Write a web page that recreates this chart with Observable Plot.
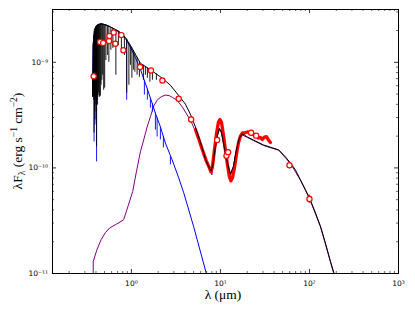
<!DOCTYPE html>
<html>
<head>
<meta charset="utf-8">
<script src="https://cdn.jsdelivr.net/npm/d3@7"></script>
<script src="https://cdn.jsdelivr.net/npm/@observablehq/plot@0.6"></script>
<style>
  body { margin: 0; background: #fff; }
</style>
</head>
<body>
<div id="chart"></div>
<script>
// ---------- data (wavelength in micron, lambda*F_lambda in erg s^-1 cm^-2) ----------
// total model (star + dust), continuum envelope
const totalModel = [
  [0.366,4.78e-10],[0.372,1.445e-9],[0.384,2.00e-9],[0.404,2.21e-9],[0.426,2.28e-9],
  [0.460,2.31e-9],[0.497,2.28e-9],[0.537,2.23e-9],[0.581,2.16e-9],[0.661,2.05e-9],
  [0.752,1.92e-9],[0.857,1.72e-9],[0.975,1.445e-9],[1.109,1.19e-9],[1.262,9.79e-10],
  [1.634,8.50e-10],[2.23,7.06e-10],[2.74,6.07e-10],[3.37,4.89e-10],[4.04,4.02e-10],
  [4.60,3.23e-10],[5.24,2.44e-10],[5.96,1.76e-10],[6.78,1.22e-10],[7.33,1.04e-10],
  [7.86,9.38e-11],[8.24,1.07e-10],[8.68,1.48e-10],[9.25,2.05e-10],[9.75,2.37e-10],
  [10.26,2.19e-10],[11.09,1.55e-10],[12.0,1.11e-10],[12.95,8.77e-11],[14.0,1.04e-10],
  [15.1,1.48e-10],[16.3,1.92e-10],[17.5,2.09e-10],[18.6,2.05e-10],[20.1,1.96e-10],
  [24.7,1.80e-10],[30.4,1.65e-10],[36.5,1.57e-10],[45.2,1.48e-10],[53.8,1.27e-10],
  [61.2,1.11e-10],[69.6,9.58e-11],[79.2,7.71e-11],[90.2,6.20e-11],[100,5.18e-11],
  [117,3.74e-11],[133,2.79e-11],[151,1.95e-11],[172,1.30e-11],[188,1.02e-11],[206,7.54e-12]
];
// absorption lines in the total model: [lambda, continuum, line bottom]
const totalLines = [
  [0.3684,6.92e-10,4.68e-10],[0.3731,1.49e-9,4.89e-10],[0.3770,1.655e-9,4.38e-10],
  [0.3809,1.80e-9,2.14e-10],[0.3859,2.03e-9,3.53e-10],[0.3899,2.06e-9,2.84e-10],
  [0.3940,2.10e-9,4.38e-10],[0.3981,2.15e-9,3.93e-10],[0.4022,2.19e-9,3.37e-10],
  [0.4064,2.22e-9,1.58e-10],[0.4117,2.23e-9,4.38e-10],[0.4171,2.25e-9,3.93e-10],
  [0.4225,2.27e-9,4.89e-10],[0.4281,2.28e-9,5.21e-10],[0.4337,2.29e-9,4.68e-10],
  [0.4404,2.30e-9,4.68e-10],[0.4484,2.30e-9,4.78e-10],[0.4566,2.31e-9,6.07e-10],
  [0.4660,2.31e-9,6.76e-10],[0.4757,2.30e-9,7.54e-10],[0.4883,2.29e-9,5.44e-10],
  [0.5012,2.28e-9,5.69e-10],[0.5170,2.26e-9,1.04e-9],[0.5374,2.23e-9,1.16e-9],
  [0.5586,2.20e-9,1.00e-9],[0.5883,2.15e-9,1.30e-9],[0.6196,2.10e-9,1.355e-9],
  [0.6696,2.03e-9,7.54e-10],[0.7143,1.97e-9,1.445e-9],[0.7722,1.88e-9,1.30e-9],
  [0.8346,1.76e-9,1.16e-9],[0.8856,1.65e-9,5.10e-10],[0.9374,1.52e-9,6.07e-10],
  [0.9745,1.445e-9,9.37e-10],[1.013,1.365e-9,7.06e-10],[1.053,1.29e-9,8.41e-10],
  [1.095,1.21e-9,8.05e-10],[1.159,1.115e-9,7.54e-10],[1.230,1.017e-9,7.22e-10],
  [1.364,9.39e-10,6.76e-10],[1.436,9.11e-10,7.54e-10],[1.512,8.85e-10,7.06e-10],
  [1.614,8.55e-10,6.48e-10],[1.722,8.22e-10,6.76e-10],[1.909,7.74e-10,6.76e-10]
];
// stellar photosphere
const starModel = [
  [0.366,4.78e-10],[0.372,1.445e-9],[0.384,2.00e-9],[0.404,2.21e-9],[0.426,2.28e-9],
  [0.460,2.31e-9],[0.497,2.28e-9],[0.537,2.23e-9],[0.581,2.16e-9],[0.661,2.03e-9],
  [0.752,1.90e-9],[0.857,1.68e-9],[0.975,1.39e-9],[1.109,1.11e-9],[1.262,8.59e-10],
  [1.50,5.69e-10],[1.71,4.10e-10],[1.86,3.30e-10],[2.12,2.44e-10],[2.41,1.72e-10],
  [2.87,1.19e-10],[3.40,8.05e-11],[3.87,5.81e-11],[5.01,2.77e-11],[6.90,1.02e-11],[8.13,6.76e-12]
];
const starLines = [
  [0.3809,1.80e-9,1.76e-10],[0.3899,2.06e-9,2.55e-10],[0.4064,2.22e-9,1.14e-10],
  [0.8856,1.65e-9,4.38e-10],[1.400,6.72e-10,4.89e-10],[1.512,5.58e-10,4.38e-10],
  [1.635,4.58e-10,3.68e-10],[1.722,4.06e-10,3.37e-10],[1.861,3.30e-10,2.28e-10],
  [1.944,2.98e-10,1.96e-10],[2.117,2.44e-10,1.84e-10],[2.288,1.98e-10,1.55e-10],
  [2.743,1.27e-10,1.07e-10]
];
// dust component
const dustModel = [
  [0.371,5e-12],[0.373,1.30e-11],[0.410,1.68e-11],[0.457,2.09e-11],[0.511,2.44e-11],
  [0.570,2.70e-11],[0.678,2.93e-11],[0.819,3.23e-11],[0.913,4.29e-11],[1.034,5.97e-11],
  [1.138,9.17e-11],[1.262,1.42e-10],[1.374,1.84e-10],[1.513,2.49e-10],[1.634,3.05e-10],
  [1.781,3.85e-10],[1.945,4.38e-10],[2.17,4.73e-10],[2.41,4.89e-10],[2.67,4.83e-10],
  [2.89,4.65e-10],[3.26,4.38e-10],[3.74,3.76e-10],[4.60,2.84e-10],[5.47,2.05e-10],
  [6.44,1.39e-10],[7.40,1.03e-10],[8.02,8.59e-11],[8.24,1.03e-10],[8.68,1.43e-10],
  [9.25,2.0e-10],[9.75,2.32e-10],[10.26,2.14e-10],[11.09,1.51e-10],[12.0,1.08e-10],
  [12.95,8.5e-11],[14.0,1.01e-10],[15.1,1.45e-10],[16.3,1.89e-10],[17.5,2.06e-10],
  [20.1,1.94e-10],[30.4,1.63e-10],[45.2,1.47e-10],[61.2,1.10e-10],[79.2,7.65e-11],
  [100,5.15e-11],[133,2.77e-11],[172,1.29e-11],[206,7.5e-12]
];
// IRS spectrum
const irsSpectrum = [
  [5.24,2.30e-10],[5.66,1.92e-10],[6.28,1.48e-10],[6.96,1.16e-10],[7.52,1.00e-10],
  [7.82,9.17e-11],[8.13,1.02e-10],[8.56,1.48e-10],[9.02,2.09e-10],[9.50,2.72e-10],
  [9.87,2.87e-10],[10.26,2.72e-10],[10.81,2.05e-10],[11.38,1.48e-10],[11.99,1.07e-10],
  [12.63,8.22e-11],[13.12,7.54e-11],[13.64,8.05e-11],[14.37,1.00e-10],[15.13,1.33e-10],
  [15.93,1.72e-10],[16.78,2.00e-10],[17.67,2.14e-10],[18.6,2.14e-10],[20.1,2.19e-10],
  [21.7,2.14e-10],[23.5,2.07e-10],[25.4,2.00e-10],[26.7,1.92e-10],[28.1,1.94e-10],
  [29.6,1.86e-10],[31.2,1.96e-10],[32.9,1.98e-10],[34.6,1.84e-10],[36.5,1.74e-10]
];
// photometry
const photLam  = [0.377,0.445,0.481,0.561,0.566,0.633,0.661,0.772,0.813,1.25,1.66,2.23,3.40,4.69,9.18,11.7,12.2,22.1,25.2,59.6,100];
const photFlux = [7.38e-10,1.56e-9,1.52e-9,1.59e-9,1.77e-9,1.92e-9,1.50e-9,1.81e-9,1.30e-9,9.03e-10,8.35e-10,6.72e-10,4.51e-10,2.87e-10,1.84e-10,1.30e-10,1.41e-10,2.15e-10,2.02e-10,1.06e-10,5.07e-11];
const photErr  = [1.5e-11,3e-11,3e-11,3e-11,3.5e-11,4e-11,3e-11,3.5e-11,2.5e-11,1.8e-11,1.7e-11,1.3e-11,9e-12,6e-12,4e-12,6e-12,7e-12,4e-12,6e-12,5.5e-12,4.5e-12];

// axes
const xTickValues = [1, 10, 100, 1000];
const xTickLabels = ["10\u2070", "10\u00b9", "10\u00b2", "10\u00b3"];
const yTickValues = [1e-11, 1e-10, 1e-9];
const yTickLabels = ["10\u207b\u00b9\u00b9", "10\u207b\u00b9\u2070", "10\u207b\u2079"];
const xDomain = [0.13, 1000];
const yDomain = [1e-11, Math.pow(10, -8.5)];

// ---------- build ----------
const pairs = a => a.map(([lam, f]) => ({lam, f}));
const lines = a => a.map(([lam, top, bottom]) => ({lam, top, bottom}));
const phot = photLam.map((lam, i) => ({lam, f: photFlux[i], err: photErr[i]}));

const xMinor = [];
for (let k = -1; k <= 2; k++) for (let d = 2; d <= 9; d++) {
  const v = d * Math.pow(10, k);
  if (v >= xDomain[0] && v <= xDomain[1]) xMinor.push(v);
}
const yMinor = [];
for (let k = -11; k <= -9; k++) for (let d = 2; d <= 9; d++) {
  const v = d * Math.pow(10, k);
  if (v >= yDomain[0] && v <= yDomain[1]) yMinor.push(v);
}

const W = 415, H = 312, mL = 52, mR = 17, mT = 9, mB = 39;
const fw = W - mL - mR, fh = H - mT - mB;

const chart = Plot.plot({
  width: W, height: H,
  marginLeft: mL, marginRight: mR, marginTop: mT, marginBottom: mB,
  style: {fontFamily: "'DejaVu Sans'", fontSize: "7.5px", background: "white", overflow: "visible"},
  x: {type: "log", domain: xDomain, axis: null},
  y: {type: "log", domain: yDomain, axis: null},
  marks: [
    Plot.line(pairs(dustModel), {x: "lam", y: "f", stroke: "#800080", strokeWidth: 1, clip: true}),
    Plot.line(pairs(starModel), {x: "lam", y: "f", stroke: "#0000ff", strokeWidth: 1, clip: true}),
    Plot.ruleX(lines(starLines), {x: "lam", y1: "bottom", y2: "top", stroke: "#0000ff", strokeWidth: 0.9, clip: true}),
    Plot.line(pairs(irsSpectrum), {x: "lam", y: "f", stroke: "#ff0000", strokeWidth: 3.3, strokeLinejoin: "round", clip: true}),
    Plot.line(pairs(totalModel), {x: "lam", y: "f", stroke: "black", strokeWidth: 1, clip: true}),
    Plot.ruleX(lines(totalLines), {x: "lam", y1: "bottom", y2: "top", stroke: "black", strokeWidth: 0.9, clip: true}),
    Plot.ruleX(phot, {x: "lam", y1: d => d.f - d.err, y2: d => d.f + d.err, stroke: "#ff0000", strokeWidth: 1.5}),
    Plot.dot(phot, {x: "lam", y: "f", r: 2.6, stroke: "#ff0000", strokeWidth: 1.2, fill: "white"}),
    // ticks (inward, all four sides)
    Plot.tickX(xTickValues, {x: d => d, insetTop: fh - 4, stroke: "black", strokeWidth: 0.8}),
    Plot.tickX(xTickValues, {x: d => d, insetBottom: fh - 4, stroke: "black", strokeWidth: 0.8}),
    Plot.tickX(xMinor, {x: d => d, insetTop: fh - 2, stroke: "black", strokeWidth: 0.6}),
    Plot.tickX(xMinor, {x: d => d, insetBottom: fh - 2, stroke: "black", strokeWidth: 0.6}),
    Plot.tickY(yTickValues, {y: d => d, insetRight: fw - 4, stroke: "black", strokeWidth: 0.8}),
    Plot.tickY(yTickValues, {y: d => d, insetLeft: fw - 4, stroke: "black", strokeWidth: 0.8}),
    Plot.tickY(yMinor, {y: d => d, insetRight: fw - 2, stroke: "black", strokeWidth: 0.6}),
    Plot.tickY(yMinor, {y: d => d, insetLeft: fw - 2, stroke: "black", strokeWidth: 0.6}),
    // tick labels
    Plot.text(xTickValues, {x: d => d, frameAnchor: "bottom", text: (d, i) => xTickLabels[i],
      lineAnchor: "bottom", dy: 12, fill: "black"}),
    Plot.text(yTickValues, {y: d => d, frameAnchor: "left", text: (d, i) => yTickLabels[i],
      textAnchor: "end", dx: -4.5, fill: "black"}),
    Plot.frame({stroke: "black", strokeWidth: 1})
  ]
});

// axis titles with sub/superscripts
const svg = d3.select(chart);
const yl = svg.append("text")
  .attr("transform", `translate(22,${mT + fh / 2}) rotate(-90)`)
  .attr("text-anchor", "middle")
  .attr("fill", "black")
  .style("font-family", "'Liberation Serif'")
  .style("font-size", "13.5px")
  .style("font-weight", "normal");
yl.append("tspan").text("λF");
yl.append("tspan").attr("dy", 3).style("font-size", "9.5px").text("λ");
yl.append("tspan").attr("dy", -3).text(" (erg s");
yl.append("tspan").attr("dy", -5).style("font-size", "9.5px").text("−1");
yl.append("tspan").attr("dy", 5).text(" cm");
yl.append("tspan").attr("dy", -5).style("font-size", "9.5px").text("−2");
yl.append("tspan").attr("dy", 5).text(")");

svg.append("text")
  .attr("x", mL + fw / 2 - 2).attr("y", 299)
  .attr("text-anchor", "middle")
  .attr("fill", "black")
  .style("font-family", "'Liberation Serif'")
  .style("font-size", "13.5px")
  .style("font-weight", "normal")
  .text("λ (μm)");

document.getElementById("chart").appendChild(chart);
</script>
</body>
</html>
